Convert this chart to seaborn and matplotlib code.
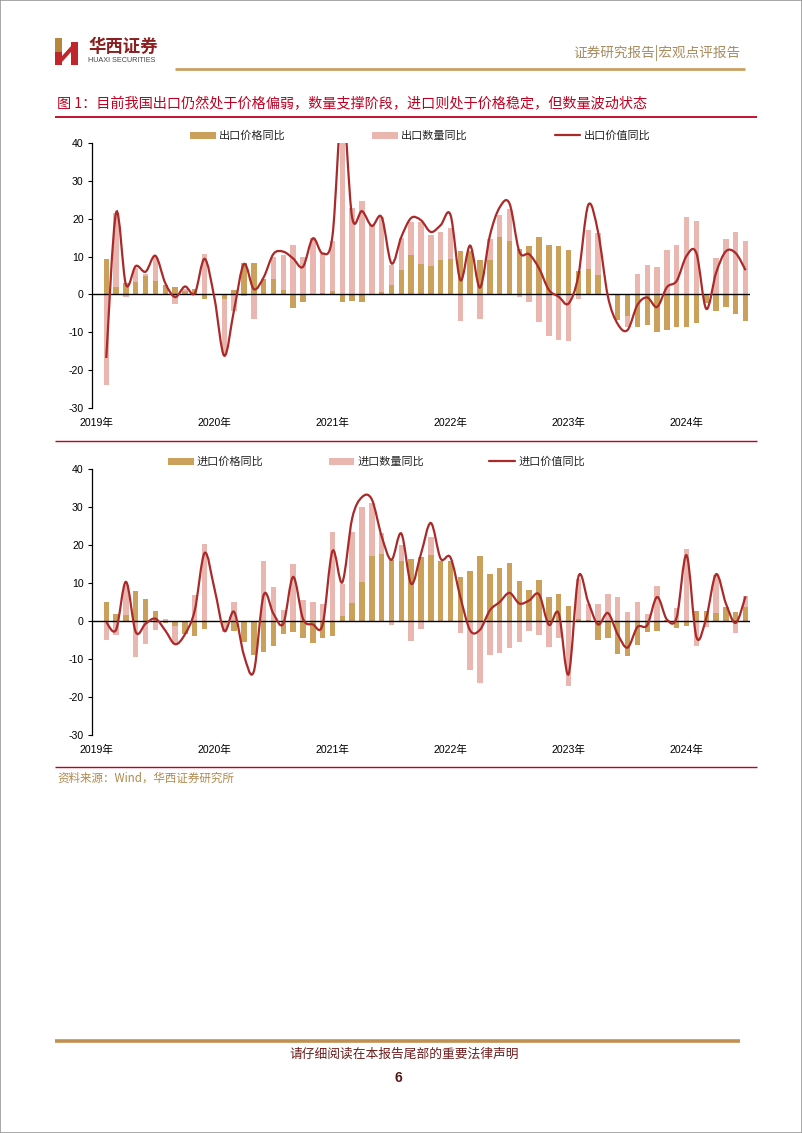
import numpy as np
import pandas as pd
import matplotlib
matplotlib.use('Agg')
import matplotlib.pyplot as plt
import seaborn as sns
from matplotlib.path import Path
from matplotlib.patches import PathPatch, Patch, Rectangle, Polygon
from matplotlib.lines import Line2D

nan = np.nan

# monthly categories, Feb 2019 - Jul 2024
months = pd.date_range('2019-02-01', periods=66, freq='MS').strftime('%Y-%m').tolist()
years = [2019, 2020, 2021, 2022, 2023, 2024]
year_labels = ['2019年', '2020年', '2021年', '2022年', '2023年', '2024年']

# export (%, yoy)
exp_price = [9.4, 2.0, 3.0, 3.3, 4.8, 3.5, 2.5, 2.0, 1.0, 1.5, -1.3, nan,
             -1.2, 1.3, 8.3, 8.3, 4.2, 4.2, 1.2, -3.7, -2.0, 0.2, 0.3, 1.0,
             -2.1, -1.7, -2.1, 0.2, 0.6, 2.4, 6.5, 10.5, 8.0, 7.4, 9.2, 9.3,
             11.4, 11.5, 9.0, 9.2, 15.3, 14.2, 12.0, 12.8, 15.3, 13.1, 12.9, 11.8,
             6.3, 6.6, 5.0, nan, -6.8, -5.7, -8.6, -8.0, -9.8, -9.3, -8.5, -8.7,
             -7.5, -2.2, -4.5, -3.2, -5.3, -6.9]
exp_qty = [-24.0, 21.5, -0.8, 7.0, 5.5, 10.0, 0.5, -2.6, 1.5, 0.3, 10.6, nan,
           -15.9, -4.5, -0.3, -6.6, 0.5, 10.0, 10.5, 13.0, 10.0, 14.8, 10.6, 14.0,
           55.0, 22.7, 24.8, 18.3, 20.5, 7.7, 14.8, 19.0, 19.0, 15.7, 16.5, 17.5,
           -7.0, 0.5, -6.5, 14.6, 21.0, 22.6, -0.8, -2.0, -7.2, -10.9, -12.0, -12.3,
           -1.3, 17.0, 16.1, nan, -5.0, -8.7, 5.5, 7.7, 7.2, 11.7, 13.1, 20.5,
           19.4, -1.5, 9.6, 14.6, 16.5, 14.1]
exp_value = [-16.8, 21.6, 2.6, 7.5, 6.0, 10.2, 3.0, -0.7, 2.1, 0.3, 9.4, -1.0,
             -16.2, -4.0, 8.0, 1.4, 4.5, 10.7, 11.3, 9.5, 7.3, 14.8, 10.8, 15.5,
             50.0, 20.3, 22.0, 18.1, 20.4, 8.2, 15.2, 20.2, 19.6, 16.5, 18.3, 21.0,
             3.8, 12.9, 1.8, 15.5, 23.0, 24.0, 11.3, 10.6, 6.9, 1.2, -0.6, -2.4,
             5.0, 23.6, 16.5, -0.5, -7.8, -9.4, -2.8, -0.8, -3.3, 1.9, 3.6, 10.2,
             10.9, -3.8, 5.7, 11.4, 10.9, 6.4]

# import (%, yoy)
imp_price = [4.9, 1.9, 1.6, 7.8, 5.7, 2.7, -0.4, -1.3, -3.5, -4.0, -2.2, nan,
             -0.5, -2.5, -5.5, -9.0, -8.2, -6.6, -3.4, -2.9, -4.6, -5.8, -4.6, -3.9,
             1.2, 4.8, 10.2, 17.2, 17.7, 16.0, 15.8, 16.2, 16.8, 17.4, 15.8, 15.8,
             11.7, 13.1, 17.0, 12.4, 14.0, 15.3, 10.5, 8.1, 10.7, 6.2, 7.0, 4.0,
             0.4, 0.3, -5.1, -4.5, -8.6, -9.1, -6.4, -2.9, -2.6, 0.2, -1.8, -1.3,
             2.7, 2.6, 2.2, 3.7, 2.3, 3.7]
imp_qty = [-5.1, -3.6, 9.5, -9.5, -6.1, -2.4, 0.4, -6.0, -2.0, 6.8, 20.3, nan,
           -2.8, 5.0, -3.5, -4.5, 15.8, 8.9, 3.0, 14.9, 5.6, 5.1, 4.6, 23.4,
           9.8, 23.5, 30.0, 31.1, 23.2, -1.0, 20.0, -5.3, -2.1, 22.0, 0.5, 0.5,
           -3.2, -13.0, -16.4, -8.9, -8.3, -7.2, -5.4, -2.7, -3.8, -6.8, -4.5, -17.2,
           11.0, 4.5, 4.4, 7.0, 6.4, 2.3, 5.1, 1.9, 9.2, 0.2, 3.4, 18.9,
           -6.7, -1.5, 12.0, 2.5, -3.2, 6.5]
imp_value = [-0.3, -2.3, 10.3, -2.9, -0.7, 0.6, -2.5, -6.1, -3.5, 2.8, 17.9, 8.5,
             -2.6, 2.4, -9.0, -13.3, 6.8, 1.9, -0.7, 11.6, 0.6, -0.9, -0.9, 18.4,
             10.2, 27.0, 32.6, 32.0, 22.3, 16.1, 23.0, 9.8, 17.7, 25.8, 16.4, 16.7,
             6.3, -2.5, -2.3, 2.8, 5.0, 7.4, 4.6, 5.4, 7.0, -1.0, 2.0, -14.0,
             11.6, 5.0, -0.9, 2.1, -3.5, -7.0, -1.6, -1.1, 6.3, 0.4, 1.0, 17.3,
             -4.2, 0.8, 12.3, 4.6, -0.5, 6.5]

GOLD = '#CBA05A'
PINK = '#EAB6B0'
LINE = '#AA2A2A'
RED = '#C00020'
BROWN = '#A88B5E'

sns.set_theme(style='white')
plt.rcParams['font.family'] = ['Liberation Sans', 'Noto Sans CJK SC']
plt.rcParams['axes.unicode_minus'] = False

W, H = 802, 1133
fig = plt.figure(figsize=(W / 100, H / 100), dpi=100)
fig.patch.set_facecolor('white')


def fx(x):
    return x / W


def fy(y):
    return 1 - y / H


def hline(x0, x1, y, color, lw):
    fig.add_artist(Line2D([fx(x0), fx(x1)], [fy(y), fy(y)], color=color, lw=lw,
                          transform=fig.transFigure, solid_capstyle='butt'))


def smooth_line(ax, values):
    # smoothed line through the points (cubic bezier, catmull-rom control points)
    pts = np.column_stack([np.arange(len(values)), np.asarray(values, float)])
    verts = [pts[0]]
    codes = [Path.MOVETO]
    n = len(pts)
    for i in range(n - 1):
        p0 = pts[max(i - 1, 0)]
        p1 = pts[i]
        p2 = pts[i + 1]
        p3 = pts[min(i + 2, n - 1)]
        verts += [p1 + (p2 - p0) / 6, p2 - (p3 - p1) / 6, p2]
        codes += [Path.CURVE4] * 3
    ax.add_patch(PathPatch(Path(verts, codes), fill=False, edgecolor=LINE, lw=1.6, zorder=5))


def draw_panel(ax, price, qty, value, names, leg_x, leg_y, colspace):
    df = pd.DataFrame({'month': months, 'price': price, 'qty': qty})
    sns.barplot(data=df, x='month', y='qty', order=months, color=PINK, saturation=1,
                width=0.55, errorbar=None, linewidth=0, ax=ax, zorder=2)
    sns.barplot(data=df, x='month', y='price', order=months, color=GOLD, saturation=1,
                width=0.55, errorbar=None, linewidth=0, ax=ax, zorder=2)
    smooth_line(ax, value)
    ax.axhline(0, color='black', lw=1.0, zorder=4)
    ax.set_xlim(-1.45, 65.45)
    ax.set_ylim(-30, 40)
    ax.set_yticks(range(-30, 41, 10))
    ax.set_xticks([(y - 2019) * 12 - 1 for y in years])
    ax.set_xticklabels(year_labels)
    ax.set_xlabel('')
    ax.set_ylabel('')
    for s in ['top', 'right', 'bottom']:
        ax.spines[s].set_visible(False)
    ax.spines['left'].set_color('black')
    ax.spines['left'].set_linewidth(0.9)
    ax.tick_params(axis='y', direction='out', length=3, width=0.8, pad=3,
                   labelsize=7.6, colors='black', left=True)
    ax.tick_params(axis='x', length=0, pad=7, labelsize=7.6, colors='black')
    ax.set_facecolor('white')
    handles = [Patch(facecolor=GOLD, edgecolor='none'),
               Patch(facecolor=PINK, edgecolor='none'),
               Line2D([], [], color=LINE, lw=1.6)]
    fig.legend(handles, names, loc='center left', bbox_to_anchor=(fx(leg_x), fy(leg_y)),
               ncol=3, frameon=False, fontsize=8, borderpad=0, borderaxespad=0,
               handlelength=2.3, handleheight=0.6, handletextpad=0.3,
               columnspacing=colspace)


ax1 = fig.add_axes([fx(92), fy(408), fx(750) - fx(92), fy(143) - fy(408)])
draw_panel(ax1, exp_price, exp_qty, exp_value,
           ['出口价格同比', '出口数量同比', '出口价值同比'], 190, 136, 7.8)

ax2 = fig.add_axes([fx(92), fy(735), fx(750) - fx(92), fy(469) - fy(735)])
draw_panel(ax2, imp_price, imp_qty, imp_value,
           ['进口价格同比', '进口数量同比', '进口价值同比'], 168, 462, 5.85)

# header
fig.add_artist(Rectangle((fx(55), fy(65)), fx(7), fy(38) - fy(65), facecolor='#B8863B',
                         edgecolor='none', transform=fig.transFigure))
fig.add_artist(Rectangle((fx(55), fy(65)), fx(7), fy(52) - fy(65), facecolor='#C0272D',
                         edgecolor='none', transform=fig.transFigure))
fig.add_artist(Rectangle((fx(71), fy(65)), fx(7), fy(42) - fy(65), facecolor='#C0272D',
                         edgecolor='none', transform=fig.transFigure))
fig.add_artist(Polygon([(fx(62), fy(56)), (fx(71), fy(46)), (fx(71), fy(52)), (fx(62), fy(62))],
                       closed=True, facecolor='#C0272D', edgecolor='none', transform=fig.transFigure))
fig.text(fx(88), fy(47), '华西证券', fontsize=12.5, fontweight='bold', color='#8A1F1F',
         va='center', ha='left', family=['Noto Sans CJK SC'])
fig.text(fx(88), fy(60.5), 'HUAXI SECURITIES', fontsize=5.2, color='#444444',
         va='center', ha='left')
fig.text(fx(740), fy(53), '证券研究报告|宏观点评报告', fontsize=9.8, color=BROWN,
         va='center', ha='right', family=['Noto Sans CJK SC'])
hline(175, 745, 69, '#C9A064', 2.0)

# title and separators
fig.text(fx(57), fy(104), '图 1：目前我国出口仍然处于价格偏弱，数量支撑阶段，进口则处于价格稳定，但数量波动状态',
         fontsize=10.2, color=RED, va='center', ha='left', family=['Noto Sans CJK SC', 'DejaVu Sans'])
hline(55, 757, 117, RED, 1.3)
hline(55, 757, 441, RED, 1.0)
hline(55, 757, 767, RED, 1.0)
fig.text(fx(57), fy(778), '资料来源：Wind，华西证券研究所', fontsize=8.3, color='#B0884E',
         va='center', ha='left', family=['Noto Sans CJK SC', 'DejaVu Sans'])

# footer
hline(55, 740, 1041, '#C09050', 2.6)
fig.text(fx(404), fy(1054), '请仔细阅读在本报告尾部的重要法律声明', fontsize=9.2, color='#6E1C1C',
         va='center', ha='center', family=['Noto Sans CJK SC'])
fig.text(fx(398), fy(1078), '6', fontsize=10, fontweight='bold', color='#5A1414',
         va='center', ha='center')

# page border
fig.add_artist(Rectangle((0, 0), 1, 1, fill=False, edgecolor='#9A9A9A', lw=1.2,
                         transform=fig.transFigure))

fig.savefig('out.png', dpi=100)
